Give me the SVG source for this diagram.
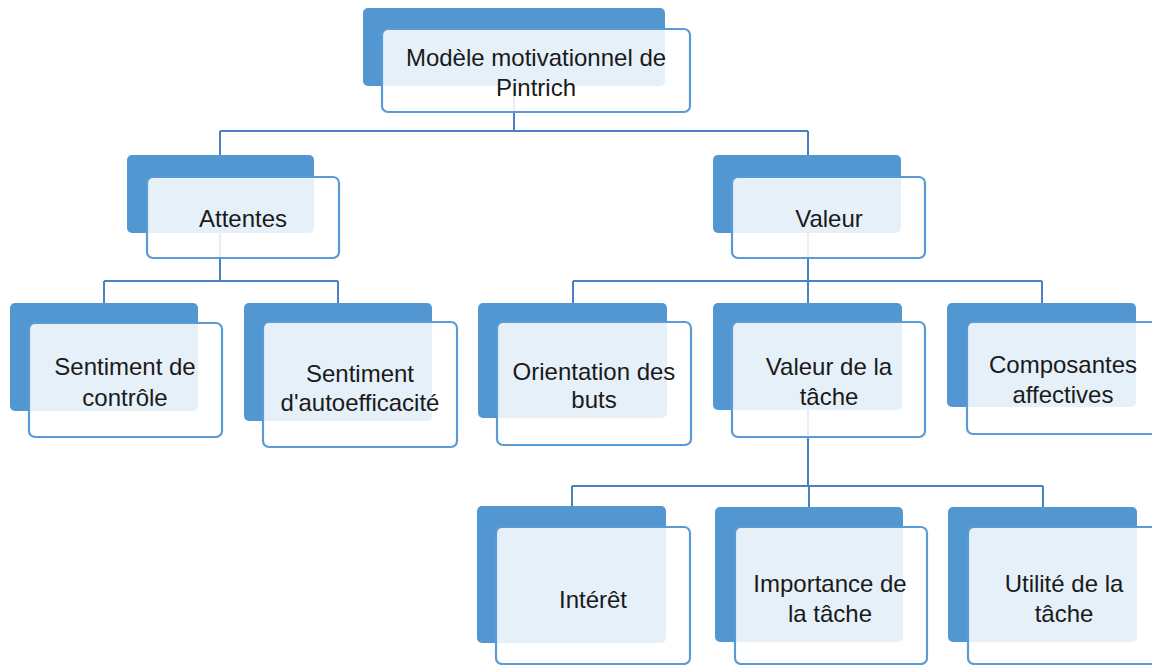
<svg xmlns="http://www.w3.org/2000/svg" width="1152" height="665" viewBox="0 0 1152 665">
  <style>
    .back { fill: #5297d2; }
    .front { fill: #ffffff; fill-opacity: 0.86; stroke: #5b9bd5; stroke-width: 2.2; }
    .wire { fill: none; stroke: #4a82bf; stroke-width: 2; }
    .label { font-family: "Liberation Sans", Arial, Helvetica, sans-serif; font-size: 24px; fill: #1a1a1a; text-anchor: middle; }
  </style>
  <rect width="1152" height="665" fill="#ffffff"/>

  <!-- connectors, drawn under the nodes -->
  <g id="connectors">
    <path class="wire" d="M514 86 V131 M220 131 H808 M220 131 V155 M808 131 V155"/>
    <path class="wire" d="M220 233 V281 M104 281 H338 M104 281 V303 M338 281 V303"/>
    <path class="wire" d="M808 233 V281 M573 281 H1042 M573 281 V303 M808 281 V303 M1042 281 V303"/>
    <path class="wire" d="M808 410 V486 M572 486 H1043 M572 486 V507 M809 486 V507 M1043 486 V507"/>
  </g>

  <g id="node-pintrich">
    <rect class="back" x="363" y="8" width="302" height="78" rx="5"/>
    <rect class="front" x="382" y="29" width="308" height="83" rx="6"/>
    <text class="label" x="536" y="66">Modèle motivationnel de</text>
    <text class="label" x="536" y="96">Pintrich</text>
  </g>

  <g id="node-attentes">
    <rect class="back" x="127" y="155" width="187" height="78" rx="5"/>
    <rect class="front" x="147" y="177" width="192" height="81" rx="6"/>
    <text class="label" x="243" y="227">Attentes</text>
  </g>

  <g id="node-valeur">
    <rect class="back" x="713" y="155" width="188" height="78" rx="5"/>
    <rect class="front" x="732" y="177" width="193" height="81" rx="6"/>
    <text class="label" x="829" y="227">Valeur</text>
  </g>

  <g id="node-controle">
    <rect class="back" x="10" y="303" width="188" height="108" rx="5"/>
    <rect class="front" x="29" y="323" width="193" height="114" rx="6"/>
    <text class="label" x="125" y="375">Sentiment de</text>
    <text class="label" x="125" y="406">contrôle</text>
  </g>

  <g id="node-autoefficacite">
    <rect class="back" x="244" y="303" width="188" height="118" rx="5"/>
    <rect class="front" x="263" y="322" width="194" height="125" rx="6"/>
    <text class="label" x="360" y="382">Sentiment</text>
    <text class="label" x="360" y="411">d'autoefficacité</text>
  </g>

  <g id="node-buts">
    <rect class="back" x="478" y="303" width="189" height="115" rx="5"/>
    <rect class="front" x="497" y="322" width="194" height="123" rx="6"/>
    <text class="label" x="594" y="380">Orientation des</text>
    <text class="label" x="594" y="408">buts</text>
  </g>

  <g id="node-valeur-tache">
    <rect class="back" x="713" y="303" width="189" height="107" rx="5"/>
    <rect class="front" x="732" y="322" width="193" height="115" rx="6"/>
    <text class="label" x="829" y="375">Valeur de la</text>
    <text class="label" x="829" y="405">tâche</text>
  </g>

  <g id="node-affectives">
    <rect class="back" x="947" y="303" width="189" height="104" rx="5"/>
    <rect class="front" x="967" y="322" width="193" height="112" rx="6"/>
    <text class="label" x="1063" y="373">Composantes</text>
    <text class="label" x="1063" y="403">affectives</text>
  </g>

  <g id="node-interet">
    <rect class="back" x="477" y="506" width="189" height="137" rx="5"/>
    <rect class="front" x="496" y="527" width="194" height="137" rx="6"/>
    <text class="label" x="593" y="608">Intérêt</text>
  </g>

  <g id="node-importance">
    <rect class="back" x="715" y="507" width="188" height="135" rx="5"/>
    <rect class="front" x="735" y="527" width="192" height="137" rx="6"/>
    <text class="label" x="830" y="592">Importance de</text>
    <text class="label" x="830" y="622">la tâche</text>
  </g>

  <g id="node-utilite">
    <rect class="back" x="948" y="507" width="189" height="135" rx="5"/>
    <rect class="front" x="968" y="527" width="193" height="137" rx="6"/>
    <text class="label" x="1064" y="592">Utilité de la</text>
    <text class="label" x="1064" y="622">tâche</text>
  </g>
</svg>
